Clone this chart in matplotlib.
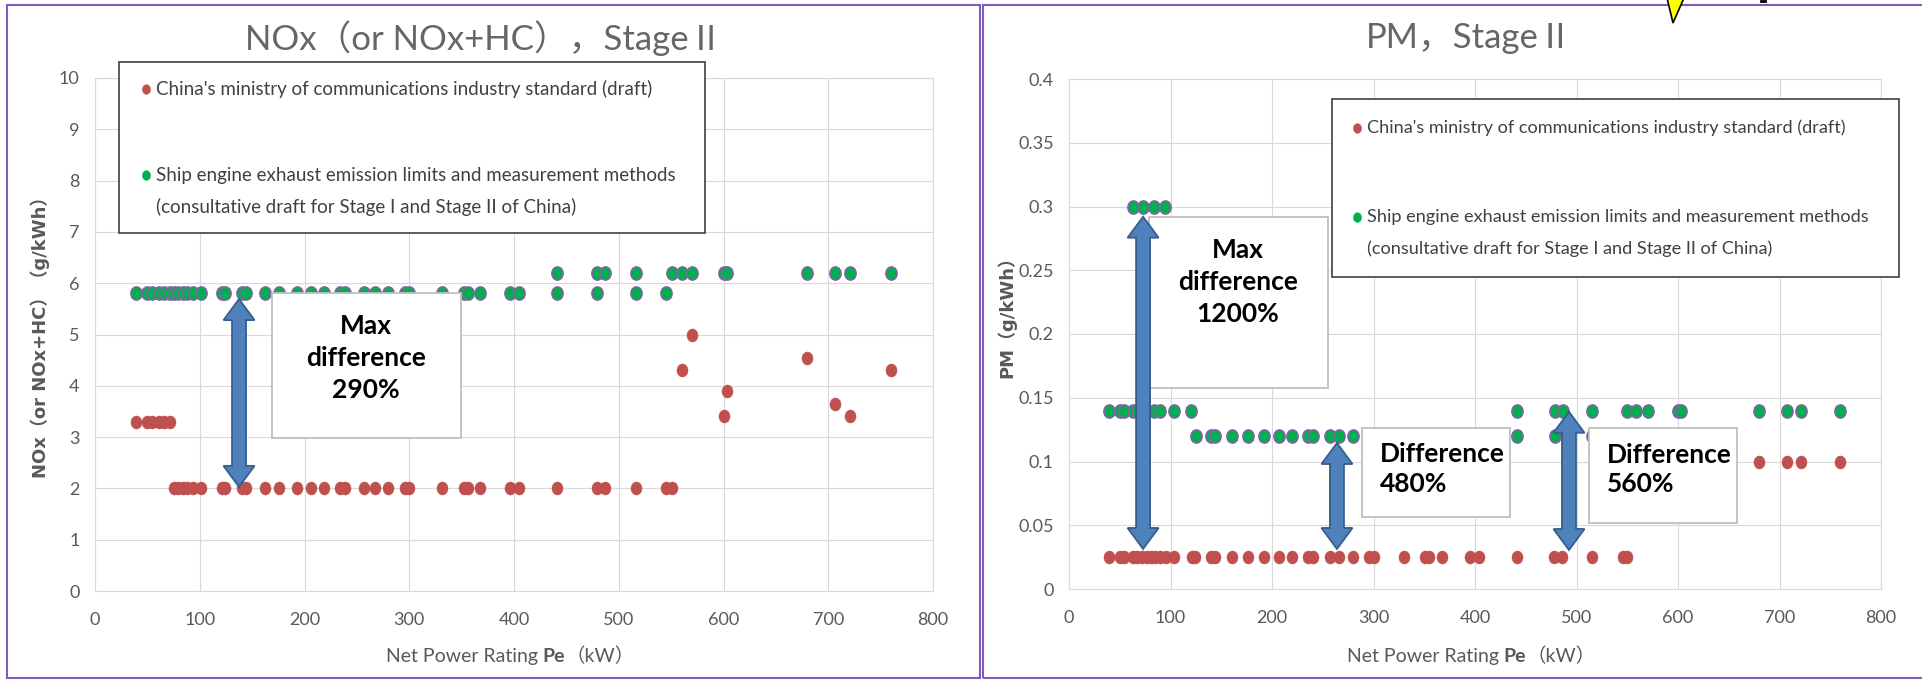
import numpy as np
import matplotlib
matplotlib.use("Agg")
import matplotlib.pyplot as plt
from matplotlib import font_manager as fm
from matplotlib.patches import Rectangle, Polygon
from matplotlib.lines import Line2D
from matplotlib.path import Path
from matplotlib.offsetbox import TextArea, HPacker, AnnotationBbox
import matplotlib.transforms as mtransforms

# ---------------- data ----------------
x_ticks = [0, 100, 200, 300, 400, 500, 600, 700, 800]
nox_yticks = [0, 1, 2, 3, 4, 5, 6, 7, 8, 9, 10]
pm_yticks = [0, 0.05, 0.1, 0.15, 0.2, 0.25, 0.3, 0.35, 0.4]
pm_ytick_labels = ["0", "0.05", "0.1", "0.15", "0.2", "0.25", "0.3", "0.35", "0.4"]

# NOx -- ministry of communications standard (draft)
nox_min_x = [39, 50, 54, 61, 66, 72,
             75, 79, 84, 88, 94, 101, 121, 124, 140, 144, 162, 176, 193, 206, 219,
             234, 239, 257, 267, 280, 296, 300, 331, 352, 356, 368, 396, 405, 441,
             479, 487, 516, 545, 551,
             560, 570, 600, 603, 680, 706, 721, 760]
nox_min_y = [3.3, 3.3, 3.3, 3.3, 3.3, 3.3,
             2, 2, 2, 2, 2, 2, 2, 2, 2, 2, 2, 2, 2, 2, 2,
             2, 2, 2, 2, 2, 2, 2, 2, 2, 2, 2, 2, 2, 2,
             2, 2, 2, 2, 2,
             4.3, 5.0, 3.42, 3.9, 4.55, 3.65, 3.42, 4.3]
# NOx -- ship engine exhaust emission limits (consultative draft)
nox_ship_x = [39, 50, 54, 61, 66, 72, 75, 79, 84, 88, 94, 101, 121, 124, 140, 144,
              162, 176, 193, 206, 219, 234, 239, 257, 267, 280, 296, 300, 331, 352,
              356, 368, 396, 405, 441, 479, 516, 545,
              441, 479, 487, 516, 551, 560, 570, 600, 603, 680, 706, 721, 760]
nox_ship_y = [5.8] * 38 + [6.2] * 13

# PM -- ministry of communications standard (draft)
pm_min_x = [39, 50, 54, 63, 67, 72, 77, 81, 85, 90, 96, 103, 121, 124, 140, 144,
            161, 176, 192, 207, 220, 235, 240, 257, 266, 280, 296, 300, 330, 351,
            355, 367, 395, 404, 441, 478, 486, 515, 546, 550,
            680, 707, 721, 760]
pm_min_y = [0.025] * 40 + [0.1] * 4
# PM -- ship engine exhaust emission limits (consultative draft)
pm_ship_x = [63, 73, 84, 95,
             39, 50, 54, 63, 67, 77, 84, 90, 103, 120, 441, 479, 487, 515, 550,
             559, 570, 600, 603, 680, 707, 721, 760,
             125, 140, 144, 161, 176, 192, 207, 220, 235, 240, 257, 266, 280, 296,
             300, 330, 351, 355, 367, 395, 404, 441, 479, 515, 546]
pm_ship_y = [0.3] * 4 + [0.14] * 23 + [0.12] * 25

legend_labels = ["China's ministry of communications industry standard (draft)",
                 "Ship engine exhaust emission limits and measurement methods\n"
                 "(consultative draft for Stage I and Stage II of China)"]
title_nox = "NOx（or NOx+HC），StageⅡ"
title_pm = "PM，StageⅡ"
ylabel_nox = "NOx（or NOx+HC）（g/kWh）"
ylabel_pm = "PM（g/kWh）"
xlabel_parts = ["Net Power Rating ", "Pe", "（kW）"]
nox_note = "Max\ndifference\n290%"
pm_notes = ["Max\ndifference\n1200%", "Difference\n480%", "Difference\n560%"]

# ---------------- style ----------------
W, H, DPI = 1922, 680, 100
avail = {f.name for f in fm.fontManager.ttflist}
BASE = "Lato" if "Lato" in avail else "DejaVu Sans"
CJK = "Noto Sans CJK SC"
plt.rcParams["font.family"] = [BASE, CJK, "DejaVu Sans"]

RED = "#C0504D"
GREEN = "#00B050"
PURPLE_EDGE = "#8064A2"
GRID = "#D9D9D9"
TXT = "#595959"
ARROW_FC = "#4F81BD"
ARROW_EC = "#385D8A"
BORDER = "#7F5BC0"

circ = Path.unit_circle()
ELL = Path(circ.vertices * np.array([0.85, 1.0]), circ.codes)

fig = plt.figure(figsize=(W / DPI, H / DPI), dpi=DPI)
fig.patch.set_facecolor("white")


def ax_rect(l, t, r, b):
    return [l / W, 1 - b / H, (r - l) / W, (b - t) / H]


def ff(x, y):
    return (x / W, 1 - y / H)


ax1 = fig.add_axes(ax_rect(95, 78, 933, 591))
ax2 = fig.add_axes(ax_rect(1069, 79, 1881, 589))

for ax in (ax1, ax2):
    ax.set_xlim(0, 800)
    ax.set_xticks(x_ticks)
    ax.grid(True, color=GRID, lw=0.8)
    ax.set_axisbelow(True)
    for s in ax.spines.values():
        s.set_color(GRID)
        s.set_linewidth(0.8)
    ax.tick_params(axis="both", length=0, labelsize=13, labelcolor=TXT)
    ax.tick_params(axis="x", pad=15)
    ax.tick_params(axis="y", pad=11)

ax1.set_ylim(0, 10)
ax1.set_yticks(nox_yticks)
ax2.set_ylim(0, 0.4)
ax2.set_yticks(pm_yticks, pm_ytick_labels)

# data points
for ax, mx, my, sx, sy in ((ax1, nox_min_x, nox_min_y, nox_ship_x, nox_ship_y),
                           (ax2, pm_min_x, pm_min_y, pm_ship_x, pm_ship_y)):
    ax.plot(mx, my, ls="none", marker=ELL, ms=9.4, mfc=RED, mec=RED, mew=0.3, zorder=3)
    ax.plot(sx, sy, ls="none", marker=ELL, ms=9.4, mfc=GREEN, mec=PURPLE_EDGE, mew=1.2, zorder=3)

# y labels
ax1.set_ylabel(ylabel_nox, fontsize=13, fontweight="bold", color=TXT,
               family=["DejaVu Sans", CJK], va="center")
ax1.yaxis.set_label_coords((40 - 95) / 838, (591 - 333) / 513)
ax2.set_ylabel(ylabel_pm, fontsize=13, fontweight="bold", color=TXT,
               family=["DejaVu Sans", CJK], va="center")
ax2.yaxis.set_label_coords((1007 - 1069) / 812, (589 - 313) / 510)

# titles
fig.text(*ff(484, 38), title_nox, ha="center", va="center", fontsize=25,
         color="#666666", fontweight="normal")
fig.text(*ff(1470, 38), title_pm, ha="center", va="center", fontsize=25,
         color="#666666", fontweight="normal")

# x labels (mixed weight)
for cx in (510, 1471):
    parts = [TextArea(xlabel_parts[0], textprops=dict(fontsize=14, color=TXT)),
             TextArea(xlabel_parts[1], textprops=dict(fontsize=14, color=TXT, fontweight="bold")),
             TextArea(xlabel_parts[2], textprops=dict(fontsize=14, color=TXT))]
    pack = HPacker(children=parts, align="baseline", pad=0, sep=0)
    ab = AnnotationBbox(pack, ff(cx, 656), xycoords="figure fraction", frameon=False,
                        box_alignment=(0.5, 0.5))
    fig.add_artist(ab)


# annotation boxes & arrows
def note_box(ax, x0, x1, y0, y1):
    ax.add_patch(Rectangle((x0, y0), x1 - x0, y1 - y0, fc="white", ec="#BFBFBF",
                           lw=1.3, zorder=5))


def double_arrow(ax, x, y0, y1, shaft=14, head_w=31, head_len=21):
    X, Y0 = ax.transData.transform((x, y0))
    _, Y1 = ax.transData.transform((x, y1))
    hs, hw = shaft / 2, head_w / 2
    pts = [(X, Y1), (X + hw, Y1 - head_len), (X + hs, Y1 - head_len),
           (X + hs, Y0 + head_len), (X + hw, Y0 + head_len), (X, Y0),
           (X - hw, Y0 + head_len), (X - hs, Y0 + head_len),
           (X - hs, Y1 - head_len), (X - hw, Y1 - head_len)]
    ax.add_patch(Polygon(pts, closed=True, transform=mtransforms.IdentityTransform(),
                         fc=ARROW_FC, ec=ARROW_EC, lw=1.3, zorder=7))


NOTE_FS = 19
note_box(ax1, 169, 349, 2.98, 5.81)
ax1.text(258.7, 4.54, nox_note, ha="center", va="center", fontsize=NOTE_FS,
         fontweight="bold", color="black", linespacing=1.42, zorder=6)
double_arrow(ax1, 137.5, 2.03, 5.69)

note_box(ax2, 79, 255, 0.158, 0.292)
ax2.text(166.5, 0.241, pm_notes[0], ha="center", va="center", fontsize=NOTE_FS,
         fontweight="bold", color="black", linespacing=1.4, zorder=6)
note_box(ax2, 289, 434, 0.0565, 0.1263)
ax2.text(306, 0.094, pm_notes[1], ha="left", va="center", fontsize=NOTE_FS,
         fontweight="bold", color="black", linespacing=1.28, zorder=6)
note_box(ax2, 512, 658, 0.0518, 0.1263)
ax2.text(530, 0.0937, pm_notes[2], ha="left", va="center", fontsize=NOTE_FS,
         fontweight="bold", color="black", linespacing=1.28, zorder=6)
double_arrow(ax2, 73, 0.0314, 0.292)
double_arrow(ax2, 264, 0.0314, 0.1145)
double_arrow(ax2, 492.6, 0.0306, 0.139)


# legends (drawn as framed boxes in figure space)
def draw_legend(x0, y0, x1, y1, mx, tx, ys, fs):
    fig.add_artist(Rectangle(ff(x0, y1), (x1 - x0) / W, (y1 - y0) / H,
                             transform=fig.transFigure, fc="white", ec="#404040",
                             lw=1.2, zorder=10))
    colors = [(RED, RED), (GREEN, GREEN)]
    for (fc, ec), label, y in zip(colors, legend_labels, ys):
        fig.add_artist(Line2D([mx / W], [1 - y / H], transform=fig.transFigure,
                              ls="none", marker=ELL, ms=7, mfc=fc, mec=ec, mew=0.3,
                              zorder=11))
        for i, line in enumerate(label.split("\n")):
            fig.text(*ff(tx, y + i * 32), line, ha="left", va="center",
                     fontsize=fs, color="#404040", zorder=11)


draw_legend(119, 62, 705, 233, 146, 156, [89, 175], 13.5)
draw_legend(1332, 99, 1899, 277, 1357, 1367, [128, 217], 13.1)

# panel borders and stray decorations
fig.add_artist(Rectangle(ff(7, 678), (980 - 7) / W, (678 - 4.5) / H,
                         transform=fig.transFigure, fill=False, ec=BORDER, lw=1.5, zorder=15))
fig.add_artist(Rectangle(ff(983, 678), (1930 - 983) / W, (678 - 4.5) / H,
                         transform=fig.transFigure, fill=False, ec=BORDER, lw=1.5, zorder=15))
fig.add_artist(Polygon([ff(1667, -2), ff(1684, -2), ff(1673, 23)], closed=True,
                       transform=fig.transFigure, fc="#FFFF00", ec="black", lw=1.2, zorder=20))
fig.add_artist(Line2D([1761 / W, 1765 / W], [1 - 1 / H] * 2, transform=fig.transFigure,
                      color="black", lw=2, zorder=20))

fig.savefig("out.png", dpi=DPI, facecolor="white")
